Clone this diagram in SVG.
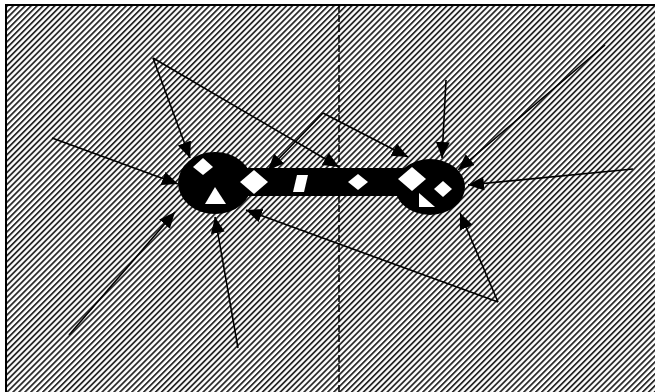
<svg xmlns="http://www.w3.org/2000/svg" width="655" height="392" viewBox="0 0 655 392">
<defs>
<pattern id="hatch" patternUnits="userSpaceOnUse" width="10" height="4.2" patternTransform="rotate(-45)">
<rect x="0" y="0" width="10" height="4.2" fill="#fff"/>
<rect x="0" y="0" width="10" height="1.8" fill="#2a2a2a"/>
</pattern>
<marker id="ah" markerUnits="userSpaceOnUse" markerWidth="17" markerHeight="15" refX="16" refY="7" orient="auto">
<path d="M0,0 L16,7 L0,14 Z" fill="#000"/>
</marker>
<style>
.conn{stroke:#000;stroke-width:1.6;fill:none;marker-end:url(#ah)}
.blk{fill:#000}
.wht{fill:#fff}
</style>
</defs>
<rect x="0" y="0" width="655" height="392" fill="#fff"/>
<rect id="frame" x="6" y="5" width="660" height="400" fill="url(#hatch)" stroke="#000" stroke-width="2"/>
<line id="divider" x1="339" y1="5" x2="339" y2="392" stroke="#000" stroke-width="1.5" stroke-dasharray="7,3"/>
<g id="body">
<ellipse class="blk" cx="215" cy="183" rx="37" ry="31"/>
<rect class="blk" x="240" y="168" width="170" height="28"/>
<ellipse class="blk" cx="430" cy="187" rx="35" ry="28"/>
</g>
<g id="shapes">
<polygon class="wht" points="203,158 213,167 203,175 193,167"/>
<polygon class="wht" points="215,187 226,204 205,204"/>
<polygon class="wht" points="254,170 268,182 254,194 240,182"/>
<polygon class="wht" points="297,175 308,175 304,192 293,192"/>
<polygon class="wht" points="358,174 368,182 358,190 348,182"/>
<polygon class="wht" points="412,167 426,179 412,191 398,179"/>
<polygon class="wht" points="443,181 452,189 443,197 434,189"/>
<polygon class="wht" points="419,193 419,207 435,207"/>
</g>
<g id="connectors">
<line class="conn" x1="153" y1="58" x2="190" y2="158"/>
<line class="conn" x1="153" y1="58" x2="339" y2="167"/>
<line class="conn" x1="323" y1="113" x2="268" y2="170"/>
<line class="conn" x1="323" y1="113" x2="408" y2="157"/>
<line class="conn" x1="52" y1="138" x2="178" y2="184"/>
<line class="conn" x1="69" y1="335" x2="175" y2="212"/>
<line class="conn" x1="238" y1="348" x2="215" y2="217"/>
<line class="conn" x1="498" y1="302" x2="246" y2="210"/>
<line class="conn" x1="498" y1="302" x2="460" y2="213"/>
<line class="conn" x1="446" y1="80" x2="442" y2="158"/>
<line class="conn" x1="605" y1="45" x2="458" y2="170"/>
<line class="conn" x1="633" y1="169" x2="468" y2="185"/>
</g>
</svg>
